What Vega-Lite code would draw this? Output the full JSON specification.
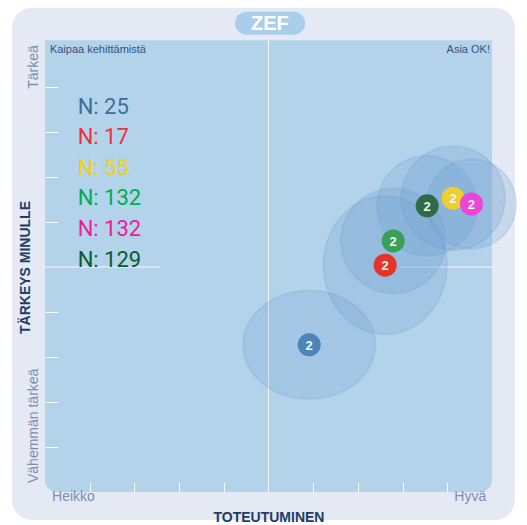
{
  "$schema": "https://vega.github.io/schema/vega-lite/v6.json",
  "width": 447,
  "height": 450,
  "autosize": {"type": "none"},
  "padding": {"left": 45, "top": 42, "right": 35, "bottom": 33},
  "background": "white",
  "config": {"view": {"stroke": null}, "font": "Liberation Sans"},
  "data": {
    "values": [
      {"series": "A", "n": 25, "x": 5.91, "y": 3.27, "sx": 1.48, "k": 2},
      {"series": "B", "n": 17, "x": 7.61, "y": 5.04, "sx": 1.38, "k": 2},
      {"series": "D", "n": 132, "x": 7.79, "y": 5.58, "sx": 1.17, "k": 2},
      {"series": "F", "n": 129, "x": 8.55, "y": 6.36, "sx": 1.12, "k": 2},
      {"series": "C", "n": 55, "x": 9.13, "y": 6.53, "sx": 1.16, "k": 2},
      {"series": "E", "n": 132, "x": 9.54, "y": 6.40, "sx": 1.0, "k": 2}
    ]
  },
  "layer": [
    {
      "data": {"values": [{}]},
      "mark": {"type": "rect", "fill": "#e4e9f4", "cornerRadius": 20, "clip": false},
      "encoding": {
        "x": {"datum": -0.738, "type": "quantitative", "scale": {"domain": [0, 10], "nice": false, "zero": false},
          "axis": {"values": [1, 2, 3, 4, 6, 7, 8, 9], "tickSize": -10, "tickColor": "white", "tickOpacity": 0.9, "tickWidth": 1, "domain": false, "labels": false, "grid": false,
            "title": "TOTEUTUMINEN", "titleFont": "Liberation Sans", "titleFontSize": 14, "titleFontWeight": "bold", "titleColor": "#213d66",
            "titleX": 223.5, "titleY": 25, "titleAlign": "center", "titleBaseline": "middle", "zindex": 2}},
        "x2": {"datum": 10.51},
        "y": {"datum": -0.62, "type": "quantitative", "scale": {"domain": [0, 10], "nice": false, "zero": false},
          "axis": {"values": [1, 2, 3, 4, 6, 7, 8, 9], "tickSize": -13, "tickColor": "white", "tickOpacity": 0.9, "tickWidth": 1, "domain": false, "labels": false, "grid": false,
            "title": "TÄRKEYS MINULLE", "titleFont": "Liberation Sans", "titleFontSize": 14, "titleFontWeight": "bold", "titleColor": "#213d66",
            "titleX": -20, "titleY": 225, "titleAngle": -90, "titleAlign": "center", "titleBaseline": "middle", "zindex": 2}},
        "y2": {"datum": 10.76}
      }
    },
    {
      "data": {"values": [{}]},
      "mark": {"type": "rect", "fill": "#b3d3eb", "cornerRadiusBottomLeft": 12, "cornerRadiusBottomRight": 12},
      "encoding": {
        "x": {"datum": 0, "type": "quantitative"},
        "x2": {"datum": 10},
        "y": {"datum": 0, "type": "quantitative"},
        "y2": {"datum": 10.04}
      }
    },
    {
      "data": {"values": [{}]},
      "mark": {"type": "rect", "fill": "#a9ceec", "cornerRadius": 11.5},
      "encoding": {
        "x": {"datum": 4.25, "type": "quantitative"},
        "x2": {"datum": 5.82},
        "y": {"datum": 10.16, "type": "quantitative"},
        "y2": {"datum": 10.67}
      }
    },
    {
      "data": {"values": [{}]},
      "mark": {"type": "text", "text": "ZEF", "fill": "white", "fontSize": 20, "fontWeight": "bold", "align": "center", "baseline": "middle"},
      "encoding": {
        "x": {"datum": 5.03, "type": "quantitative"},
        "y": {"datum": 10.4, "type": "quantitative"}
      }
    },
    {
      "data": {"values": [{}]},
      "mark": {"type": "rule", "stroke": "white", "strokeWidth": 1, "opacity": 0.9},
      "encoding": {
        "x": {"datum": 5, "type": "quantitative"},
        "y": {"datum": 0, "type": "quantitative"},
        "y2": {"datum": 10.04}
      }
    },
    {
      "data": {"values": [{}]},
      "mark": {"type": "rule", "stroke": "white", "strokeWidth": 1, "opacity": 0.9},
      "encoding": {
        "x": {"datum": 0, "type": "quantitative"},
        "x2": {"datum": 2.57},
        "y": {"datum": 5, "type": "quantitative"}
      }
    },
    {
      "data": {"values": [{}]},
      "mark": {"type": "rule", "stroke": "white", "strokeWidth": 1, "opacity": 0.9},
      "encoding": {
        "x": {"datum": 7.95, "type": "quantitative"},
        "x2": {"datum": 10},
        "y": {"datum": 5, "type": "quantitative"}
      }
    },
    {
      "data": {"values": [{}]},
      "mark": {"type": "text", "text": "Kaipaa kehittämistä", "fill": "#34527e", "fontSize": 11, "align": "left", "baseline": "middle"},
      "encoding": {
        "x": {"datum": 0.11, "type": "quantitative"},
        "y": {"datum": 9.82, "type": "quantitative"}
      }
    },
    {
      "data": {"values": [{}]},
      "mark": {"type": "text", "text": "Asia OK!", "fill": "#34527e", "fontSize": 11, "align": "right", "baseline": "middle"},
      "encoding": {
        "x": {"datum": 9.955, "type": "quantitative"},
        "y": {"datum": 9.82, "type": "quantitative"}
      }
    },
    {
      "data": {"values": [{}]},
      "mark": {"type": "text", "text": "Tärkeä", "fill": "#7a8fb0", "fontSize": 14, "angle": 270, "align": "right", "baseline": "middle"},
      "encoding": {
        "x": {"datum": -0.235, "type": "quantitative"},
        "y": {"datum": 9.93, "type": "quantitative"}
      }
    },
    {
      "data": {"values": [{}]},
      "mark": {"type": "text", "text": "Vähemmän tärkeä", "fill": "#7a8fb0", "fontSize": 14, "angle": 270, "align": "left", "baseline": "middle"},
      "encoding": {
        "x": {"datum": -0.235, "type": "quantitative"},
        "y": {"datum": 0.2, "type": "quantitative"}
      }
    },
    {
      "data": {"values": [{}]},
      "mark": {"type": "text", "text": "Heikko", "fill": "#7a8fb0", "fontSize": 14, "align": "left", "baseline": "middle"},
      "encoding": {
        "x": {"datum": 0.157, "type": "quantitative"},
        "y": {"datum": -0.11, "type": "quantitative"}
      }
    },
    {
      "data": {"values": [{}]},
      "mark": {"type": "text", "text": "Hyvä", "fill": "#7a8fb0", "fontSize": 14, "align": "right", "baseline": "middle"},
      "encoding": {
        "x": {"datum": 9.87, "type": "quantitative"},
        "y": {"datum": -0.11, "type": "quantitative"}
      }
    },
    {
      "data": {"values": [{}]},
      "mark": {"type": "text", "text": "N: 25", "fill": "#3b6f98", "font": "Roboto", "fontSize": 22, "align": "left", "baseline": "middle"},
      "encoding": {"x": {"datum": 0.73, "type": "quantitative"}, "y": {"datum": 8.56, "type": "quantitative"}}
    },
    {
      "data": {"values": [{}]},
      "mark": {"type": "text", "text": "N: 17", "fill": "#f0303a", "font": "Roboto", "fontSize": 22, "align": "left", "baseline": "middle"},
      "encoding": {"x": {"datum": 0.73, "type": "quantitative"}, "y": {"datum": 7.89, "type": "quantitative"}}
    },
    {
      "data": {"values": [{}]},
      "mark": {"type": "text", "text": "N: 55", "fill": "#f3d00a", "font": "Roboto", "fontSize": 22, "align": "left", "baseline": "middle"},
      "encoding": {"x": {"datum": 0.73, "type": "quantitative"}, "y": {"datum": 7.2, "type": "quantitative"}}
    },
    {
      "data": {"values": [{}]},
      "mark": {"type": "text", "text": "N: 132", "fill": "#00ac50", "font": "Roboto", "fontSize": 22, "align": "left", "baseline": "middle"},
      "encoding": {"x": {"datum": 0.73, "type": "quantitative"}, "y": {"datum": 6.53, "type": "quantitative"}}
    },
    {
      "data": {"values": [{}]},
      "mark": {"type": "text", "text": "N: 132", "fill": "#f5189a", "font": "Roboto", "fontSize": 22, "align": "left", "baseline": "middle"},
      "encoding": {"x": {"datum": 0.73, "type": "quantitative"}, "y": {"datum": 5.84, "type": "quantitative"}}
    },
    {
      "data": {"values": [{}]},
      "mark": {"type": "text", "text": "N: 129", "fill": "#0a5c2a", "font": "Roboto", "fontSize": 22, "align": "left", "baseline": "middle"},
      "encoding": {"x": {"datum": 0.73, "type": "quantitative"}, "y": {"datum": 5.16, "type": "quantitative"}}
    },
    {
      "mark": {"type": "point", "filled": true, "fill": "#6e9dcf", "opacity": 1, "fillOpacity": 0.23, "stroke": "#6a98c9", "strokeOpacity": 0.18, "strokeWidth": 2, "clip": false},
      "encoding": {
        "x": {"field": "x", "type": "quantitative"},
        "y": {"field": "y", "type": "quantitative"},
        "shape": {
          "field": "series", "type": "nominal", "legend": null,
          "scale": {
            "domain": ["A", "B", "C", "D", "E", "F"],
            "range": [
              "M-1,0A1,0.82,0,1,1,1,0A1,0.82,0,1,1,-1,0Z",
              "M-1,0A1,1.12,0,1,1,1,0A1,1.12,0,1,1,-1,0Z",
              "M-1,0A1,1,0,1,1,1,0A1,1,0,1,1,-1,0Z",
              "M-1,0A1,1,0,1,1,1,0A1,1,0,1,1,-1,0Z",
              "M-1,0A1,1,0,1,1,1,0A1,1,0,1,1,-1,0Z",
              "M-1,0A1,1,0,1,1,1,0A1,1,0,1,1,-1,0Z"
            ]
          }
        },
        "size": {
          "field": "sx", "type": "quantitative", "legend": null,
          "scale": {"type": "pow", "exponent": 2, "domain": [0, 2], "range": [0, 31969]}
        }
      }
    },
    {
      "mark": {"type": "circle", "size": 531, "opacity": 1},
      "encoding": {
        "x": {"field": "x", "type": "quantitative"},
        "y": {"field": "y", "type": "quantitative"},
        "color": {
          "field": "series", "type": "nominal", "legend": null,
          "scale": {"domain": ["A", "B", "C", "D", "E", "F"], "range": ["#4d84ba", "#e8332a", "#f0cd2e", "#3a9f5a", "#ec45d8", "#2f6b47"]}
        }
      }
    },
    {
      "mark": {"type": "text", "fill": "#eef7ee", "fontSize": 13, "fontWeight": "bold", "align": "center", "baseline": "middle", "dy": 1},
      "encoding": {
        "x": {"field": "x", "type": "quantitative"},
        "y": {"field": "y", "type": "quantitative"},
        "text": {"field": "k", "type": "quantitative"}
      }
    }
  ]
}
